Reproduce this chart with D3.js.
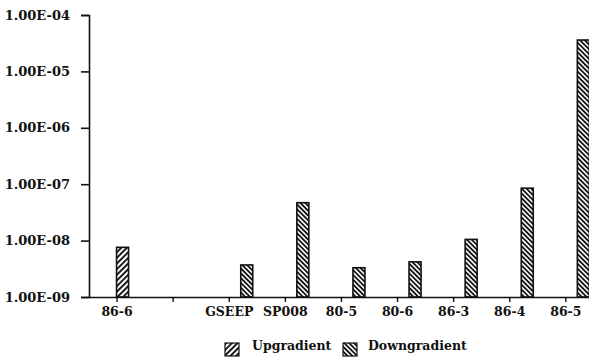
<!DOCTYPE html>
<html>
<head>
<meta charset="utf-8">
<script src="https://cdn.jsdelivr.net/npm/d3@7"></script>
<style>
  body { margin: 0; background: #fff; }
  text { font-family: "DejaVu Serif", serif; font-weight: bold; fill: #111; }
</style>
</head>
<body>
<div id="chart"></div>
<script>
// wells along the x axis, one blank slot after 86-6
const wells = ['86-6', '', 'GSEEP', 'SP008', '80-5', '80-6', '86-3', '86-4', '86-5']
const series = ['Upgradient', 'Downgradient']
// null = no bar
const upgradient = [7.6e-9, null, null, null, null, null, null, null, null]
const downgradient = [null, null, 3.7e-9, 4.7e-8, 3.3e-9, 4.2e-9, 1.05e-8, 8.5e-8, 3.6e-5]
const yTicks = [1e-9, 1e-8, 1e-7, 1e-6, 1e-5, 1e-4]
const yTickLabels = ['1.00E-09', '1.00E-08', '1.00E-07', '1.00E-06', '1.00E-05', '1.00E-04']

const width = 589
const height = 363
const plotLeft = 89, plotTop = 15, plotBottom = 297

const svg = d3.select('#chart').append('svg')
    .attr('width', width).attr('height', height)

const defs = svg.append('defs')
// upgradient: lines going up to the right
defs.append('pattern').attr('id', 'hatch-up')
    .attr('patternUnits', 'userSpaceOnUse').attr('width', 4).attr('height', 4)
    .attr('patternTransform', 'rotate(45)')
    .append('rect').attr('width', 1.9).attr('height', 4).attr('fill', '#111')
// downgradient: lines going down to the right
defs.append('pattern').attr('id', 'hatch-down')
    .attr('patternUnits', 'userSpaceOnUse').attr('width', 3.4).attr('height', 3.4)
    .attr('patternTransform', 'rotate(-45)')
    .append('rect').attr('width', 1.8).attr('height', 3.4).attr('fill', '#111')

const fills = { Upgradient: 'url(#hatch-up)', Downgradient: 'url(#hatch-down)' }

const x0 = d3.scaleBand().domain(d3.range(wells.length)).range([plotLeft, plotLeft + wells.length * 56.1])
const x1 = d3.scaleBand().domain(series).range([0, 24])
const y = d3.scaleLog().domain([1e-9, 1e-4]).range([plotBottom, plotTop])

// y axis
const yAxis = svg.append('g')
    .attr('transform', `translate(${plotLeft},0)`)
    .call(d3.axisLeft(y).tickValues(yTicks).tickSize(8).tickPadding(11)
        .tickFormat((d, i) => yTickLabels[i]))
yAxis.select('.domain').attr('stroke', '#111').attr('stroke-width', 1.6)
yAxis.selectAll('.tick line').attr('stroke', '#111').attr('stroke-width', 1.6)
yAxis.selectAll('.tick text').attr('font-size', 13).attr('fill', '#111')
    .style('font-family', '"DejaVu Serif", serif').style('font-weight', 'bold')

// bars
const rows = []
wells.forEach((w, i) => {
    if (upgradient[i] != null) rows.push({ i, s: 'Upgradient', v: upgradient[i] })
    if (downgradient[i] != null) rows.push({ i, s: 'Downgradient', v: downgradient[i] })
})

svg.selectAll('.bar').data(rows).enter().append('rect')
    .attr('class', 'bar')
    .attr('x', d => x0(d.i) + x0.bandwidth() / 2 - 0.5 + x1(d.s))
    .attr('y', d => y(d.v))
    .attr('width', x1.bandwidth())
    .attr('height', d => plotBottom - y(d.v))
    .attr('fill', d => fills[d.s])
    .attr('stroke', '#111').attr('stroke-width', 1.6)

// x axis
const xAxis = svg.append('g')
    .attr('transform', `translate(0,${plotBottom})`)
    .call(d3.axisBottom(x0).tickSize(5).tickSizeOuter(0).tickPadding(5)
        .tickFormat(i => wells[i]))
xAxis.select('.domain').attr('stroke', '#111').attr('stroke-width', 1.6)
xAxis.selectAll('.tick line').attr('stroke', '#111').attr('stroke-width', 1.4)
xAxis.selectAll('.tick text').attr('font-size', 12.5).attr('fill', '#111')
    .style('font-family', '"DejaVu Serif", serif').style('font-weight', 'bold')

// legend
const legendX = [225, 343]
const legend = svg.selectAll('.legend').data(series).enter().append('g')
    .attr('class', 'legend')
    .attr('transform', (d, i) => `translate(${legendX[i]},343)`)
legend.append('rect')
    .attr('width', 14).attr('height', 13)
    .attr('fill', d => fills[d])
    .attr('stroke', '#111').attr('stroke-width', 1.2)
legend.append('text')
    .attr('x', d => d === 'Upgradient' ? 27 : 25)
    .attr('y', 7)
    .attr('font-size', 12.5)
    .text(d => d)
</script>
</body>
</html>
